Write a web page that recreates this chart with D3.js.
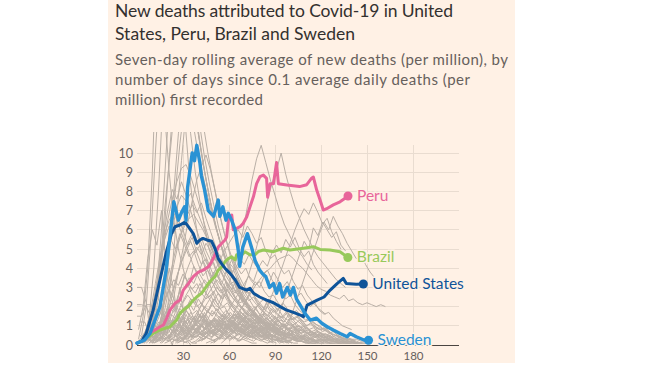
<!DOCTYPE html>
<html><head><meta charset="utf-8">
<script src="https://cdn.jsdelivr.net/npm/d3@7"></script>
<style>
body{margin:0;background:#fff;}
svg{display:block;}
text{font-family:Lato,"Noto Sans",sans-serif;}
</style></head>
<body><svg id="c" width="650" height="366"></svg>
<script>
// ---------- text ----------
const titleLines = ["New deaths attributed to Covid-19 in United", "States, Peru, Brazil and Sweden"];
const subtitleLines = ["Seven-day rolling average of new deaths (per million), by",
  "number of days since 0.1 average daily deaths (per", "million) first recorded"];
const xTicks = [30, 60, 90, 120, 150, 180];
const yTicks = [0, 1, 2, 3, 4, 5, 6, 7, 8, 9, 10];

// ---------- highlighted series (day, deaths per million) ----------
const seriesNames = ["Brazil", "Peru", "United States", "Sweden"];
const brazilDays = [7.4,10.6,15,18.3,21.5,23.7,25.9,28,30.2,33.5,35.7,38.9,42.2,44.4,46.5,48.7,50.9,53,55.3,57.4,59.6,61.8,63.9,65,67.2,70.4,73.7,77,79,82.4,89,95.4,99.8,108.5,115,119.4,125.9,132.4,137.5];
const brazilValues = [0.43,0.6,0.78,0.87,0.95,1.13,1.3,1.65,1.82,2.0,2.25,2.5,2.7,2.95,3.2,3.4,3.56,3.9,4.07,4.34,4.5,4.6,4.43,4.7,4.6,4.86,4.7,4.7,4.86,4.95,4.86,5.04,4.95,5.04,5.12,4.98,4.95,4.86,4.56];
const peruDays = [10,11.7,15,17.2,19.4,21.5,24.8,28,30.2,33.5,36.7,40,43.2,46.5,48.7,50.9,53,55.3,57.4,58.5,59.6,61.8,62.8,65,67.2,69.3,71.6,73.7,75.9,78,80.2,82.4,84.5,85.2,86.8,89,91,92.2,97.7,106,110.7,114,115,117.2,119.4,121.5,123.7,128,132.4,135.7,137.6];
const peruValues = [0.7,0.78,0.95,1.04,1.4,1.82,2.17,2.34,2.86,3.2,3.56,3.8,3.9,4.07,4.34,4.7,5.1,5.3,5.47,5.64,6.5,6.77,6.0,6.08,6.16,6.34,6.68,7.2,7.72,8.4,8.77,8.85,8.68,7.7,8.4,8.4,9.5,8.4,8.33,8.25,8.35,8.7,8.75,8.07,7.55,7.03,7.1,7.3,7.46,7.64,7.76];
const usDays = [0,3,6,10.5,15,19,22.5,24.8,28,31.3,33.5,36.7,39,41,43,45.5,48.7,51,53,55,57.4,60.7,64,67,71.5,73.7,76,80,84.5,89,93.3,97.6,102,106.5,108.5,111,117.5,122,126,130.5,134.5,136.5,143,147.6];
const usValues = [0.1,0.2,0.6,1.8,3.4,4.8,5.8,6.16,6.25,6.4,6.16,5.8,5.3,5.47,5.55,5.47,5.4,5.0,4.5,4.25,4.0,3.73,3.4,3.0,2.86,2.95,2.7,2.5,2.34,2.2,2.0,1.82,1.7,1.56,1.47,2.08,2.34,2.5,2.86,3.2,3.47,3.2,3.16,3.18];
const swedenDays = [0,5,8.5,15,19,22,24,27,29,31,32,33,34.5,36,37.5,39,41,42,44,46.5,50,53,54,56,58,59.5,61.7,64,66,67,69,72,75,77,80,82,84,86.5,89,91,93,95,98,100,102,104,107,109.5,113,117,120.5,124,128,132.5,137,139,143,148,151];
const swedenValues = [0.1,0.26,0.6,2.0,3.9,6.0,7.46,6.5,6.9,7.2,6.5,8.2,9.1,10.0,9.6,10.4,9.5,8.8,8.1,7.0,6.7,7.55,6.7,7.2,6.5,6.86,6.5,6.0,4.95,4.1,5.1,5.8,5.0,4.4,3.9,3.7,3.56,3.0,3.2,2.7,3.2,2.5,3.0,2.6,3.0,2.4,2.0,1.65,1.3,1.4,1.13,0.95,0.78,0.6,0.43,0.6,0.43,0.26,0.25];

// ---------- other countries (grey), one value every 3 days from a start day ----------
const greyStep = 3;
const greyStarts = [2,4,6,10,1,14, 5,3,7,12, 5,8,3,10,15, 0,0,1,2,
  6,10,0,15,20,25,30,40,12,8,50,60, 45,55,70,85,95,
  0,2,4,1,6,8,10,12,3,15,5,18,20,25,30,35,40,7,9,45,50,2,14,22,28,55,60,16,11,33,
  8,12,3, 5,8,12,16,20,24,30,38,42,48,65,75,3,26,35];
const greyValues = [
 [0.1,0.5,1.5,4,8,13,18,20,19,16,13,11,9,7.5,6.2,5,4.2,3.5,3,2.5,2.1,1.8,1.5,1.3,1.1,0.9,0.8,0.7,0.6,0.5,0.4,0.3],
 [0.1,0.4,1.2,3,6,10,14,17,18,17,15,13,11,9.5,8.2,7,6,5.2,4.5,3.8,3.2,2.7,2.3,2,1.7,1.4,1.2,1,0.9,0.8,0.7,0.6,0.5,0.4,0.4,0.3],
 [0.2,0.6,1.8,4,7,9.5,12,14,15,14.5,13,11.5,10,8.6,7.4,6.3,5.4,4.6,4,3.4,2.9,2.5,2.1,1.8,1.5,1.3,1.1,0.9,0.8,0.7,0.6],
 [0.1,0.5,1.5,3.2,5.5,8,10.5,12.5,13.8,14,13,11.6,10.1,8.8,7.6,6.4,5.5,4.6,3.9,3.3,2.8,2.4,2,1.7,1.4,1.2,1,0.8,0.7,0.6],
 [0.3,1.5,4,9,16,24,30,28,22,16,12,9,7,5.5,4.4,3.5,2.8,2.2,1.8,1.5,1.2,1,0.8,0.6,0.5,0.4],
 [0.2,0.8,2.0,4.0,6.8,9.6,12.2,14.5,13.2,11.4,9.8,8.5,7.3,6.2,5.3,4.5,3.8,3.2,2.7,2.3,1.9,1.6,1.3,1.1,0.9,0.7],
 [0.3,1.0,2.2,3.8,5.5,7.0,8.1,7.6,8.5,7.8,7.0,6.2,5.5,4.8,4.2,3.6,3.1,2.7,2.3,2.0,1.7,1.4,1.2,1.0,0.8,0.7,0.5,0.4],
 [0.2,0.8,1.8,3.2,4.6,5.8,6.5,6.9,6.3,5.6,5.0,4.3,3.7,3.2,2.7,2.3,1.9,1.6,1.4,1.2,1.0,0.8,0.6,0.5,0.4,0.3],
 [0.4,1.2,2.5,3.9,4.8,5.5,5.0,5.8,5.2,4.6,4.9,4.2,3.6,3.9,3.3,2.8,2.4,2.6,2.1,1.8,1.5,1.3,1.1,0.9,0.7,0.6],
 [0.3,0.9,1.8,3.0,4.2,5.3,6.2,6.8,7.3,6.9,7.4,6.6,5.9,5.2,4.6,4.0,3.5,3.0,2.6,2.2,1.9,1.6,1.4,1.2,1.0,0.8],
 [0.2,0.8,2,3.5,5,6.5,7.6,8.5,9.2,9.4,8.8,8,7.2,6.3,5.5,4.8,4.2,3.6,3.1,2.7,2.3,2,1.7,1.5,1.3,1.1,0.9,0.8,0.7,0.6],
 [0.3,0.9,1.8,3,4.5,6,7.2,7.8,7.5,7.9,7.2,6.6,6,5.3,4.7,4.1,3.6,3.1,2.7,2.3,2,1.8,1.6,1.4,1.2,1,0.9,0.8,0.7,0.6,0.5,0.5],
 [0.1,0.6,1.5,2.8,4.2,5.5,6.2,5.8,6.5,6,5.2,5.6,4.8,4.2,4.5,3.7,3.2,2.8,3,2.4,2.1,1.9,1.6,1.4,1.2,1.1],
 [0.2,0.7,1.5,2.6,3.8,4.9,5.6,6.2,6.6,6.8,6.4,6,5.5,5,4.5,4,3.6,3.2,2.8,2.5,2.2,1.9,1.7,1.5,1.3,1.1,1,0.9,0.8,0.7,0.6,0.5],
 [0.2,0.6,1.4,2.5,3.8,5,6.3,7.5,8.6,9.3,9.9,9.1,8,6.8,5.8,5,4.3,3.7,3.2,2.8,2.4,2.1,1.8,1.6,1.4,1.2,1,0.9],
 [3.0,3.0,2.2,0.5,0.4,0.4,1.5,1.5,0.8,0.2,0.2,0.1],
 [1.5,1.5,2.1,2.1,1.0,0.5,2.5,4.0,2.8,1.2,0.6,0.3,0.1,0.1],
 [0.8,2.0,4.5,6.0,5.2,7.0,4.0,2.5,1.8,3.0,1.2,0.6,0.3],
 [1.2,1.2,0.6,2.4,2.4,1.8,0.6,0,0.9,0.9,0.3,0],
 [0.2,0.5,1.0,1.6,2.3,2.9,3.4,3.1,3.7,3.3,2.9,3.2,2.7,2.4,2.6,2.1,1.9,2.0,1.6,1.4,1.5,1.2,1.0,1.1,0.8,0.7,0.6,0.5,0.4,0.3],
 [0.1,0.4,0.9,1.5,2.2,2.0,2.8,3.6,3.2,4.1,3.7,4.4,3.9,3.5,3.8,3.1,2.8,3.0,2.5,2.2,2.3,1.9,1.7,1.5,1.3,1.1,0.9,0.8,0.6,0.5],
 [2.1,2.1,2.0,1.5,1.5,1.6,2.4,2.9,2.4,1.8,1.5,1.3,0.9,0.7,0.5,0.4,0.3,0.2],
 [0.3,0.7,1.2,1.9,2.6,3.3,4.0,4.6,5.1,4.7,5.3,4.9,4.4,4.7,4.1,3.7,3.9,3.3,3.0,2.7,2.8,2.3,2.0,1.8,1.6,1.4,1.2,1.0,0.8,0.7,0.6],
 [0.2,0.5,0.9,1.4,1.9,2.4,2.2,2.9,3.4,3.1,3.8,3.5,4.2,3.9,4.5,4.1,3.7,4.0,3.4,3.1,3.3,2.8,2.5,2.6,2.2,1.9,1.7,1.5,1.3,1.1,0.9],
 [0.2,0.4,0.7,1.0,1.4,1.8,2.2,2.6,3.0,3.4,3.1,3.8,4.2,3.9,4.5,4.2,4.7,4.3,4.0,3.7,3.9,3.4,3.0,2.7,2.4,2.6,2.1,1.8,1.6,1.4,1.2,1.0,0.8,0.7,0.6],
 [0.3,0.6,1.0,1.5,2.1,2.7,3.3,3.9,4.4,4.9,5.3,5.7,6.0,5.6,6.2,5.8,5.3,5.6,4.9,4.5,4.7,4.1,3.7,3.9,3.3,2.9,3.1,2.6,2.3,2.0,1.8,1.6],
 [0.2,0.3,0.5,0.7,1.0,1.3,1.6,2.0,2.4,2.8,3.2,3.6,3.3,4.0,4.4,4.1,4.8,5.2,4.8,5.5,5.1,5.6,5.0,4.6,4.9,4.2,3.8,3.5,3.2],
 [0.2,0.6,1.2,2.0,2.9,3.8,4.6,5.3,5.8,5.2,5.6,4.9,4.4,4.7,4.0,3.5,3.1,3.3,2.7,2.3,2.0,1.7,1.5,1.3,1.1,0.9,0.7,0.6,0.5,0.4],
 [0.1,0.3,0.7,1.3,2.0,2.8,3.6,4.3,4.9,5.4,4.8,5.2,4.5,4.0,4.3,3.6,3.2,2.8,2.5,2.2,1.9,1.7,1.5,1.3,1.1,0.9,0.8,0.7],
 [0.1,0.3,0.5,0.8,1.1,1.5,1.9,2.3,2.8,3.3,3.0,3.6,3.2,3.8,3.4,3.0,3.3,2.8,2.5,2.7,2.3,2.0,2.2,1.8,1.6,1.7,1.4,1.2,1.0,0.9,0.8],
 [1,1.3,1.7,2,2.4,2.8,3.2,3.5,3.8,4,4.3,4.5,4.6,4.7,4.5,4.2,4.0,3.7,3.4,3.1,2.9,2.8,2.6,2.5,2.4,2.6,2.3,2.4,2.2,2.1,2.2,2.1,2.0,2.1,2.0],
 [0.8,1.1,1.5,2.0,2.6,3.2,3.9,4.8,5.9,7.2,8.6,9.7,10.4,9.5,8.6,7.8,7.0,6.3,5.8,5.3,4.9,4.6,4.2,3.9],
 [0.6,0.9,1.3,1.8,2.4,3.0,3.7,4.5,5.4,6.4,7.5,8.4,9.1,10.0,8.9,8.0,7.2,6.6,6.0,5.5,5.0,4.6,4.3,4.0,3.7,3.4,3.2,3.0],
 [0.3,0.5,0.8,1.1,1.5,2.0,2.6,3.2,3.9,4.6,5.3,6.0,6.6,7.1,6.8,7.4,6.9,6.3,6.6,5.9,5.4,5.0],
 [0.4,0.8,1.3,1.9,2.6,3.3,4.0,4.7,5.4,5.0,6.1,5.7,6.4,6.0,5.6,5.9,5.2,4.9],
 [0.5,1.0,1.6,2.3,3.0,3.7,4.4,5.1,5.8,6.4,6.0,6.7,6.2,5.8,5.3,4.9,4.5,4.7,4.2,3.8,3.5],
 [0.1,0.3,0.5,0.4,0.8,0.6,1.1,0.9,1.3,1.0,1.4,1.1,1.5,1.2,1.3,1.0,1.2,0.9,1.1,0.8,1.0,0.7,0.9,0.6,0.8,0.5,0.7,0.4,0.6,0.3,0.5,0.3,0.4,0.2,0.3,0.2,0.2,0.1,0.1,0.1],
 [0.2,0.1,0.6,0.3,0.9,0.5,1.2,0.7,1.4,0.9,1.6,1.1,1.5,1.2,1.7,1.0,1.4,1.2,1.6,0.9,1.3,1.0,1.1,0.8,1.0,0.6,0.9,0.5,0.7,0.4,0.6,0.3,0.4,0.3,0.2,0.2,0.1],
 [0.1,0.4,0.2,0.7,0.4,1.0,0.6,0.8,1.1,0.7,1.3,0.9,1.2,1.5,1.0,1.3,0.8,1.2,1.4,0.9,1.1,0.7,1.0,0.8,0.6,0.9,0.5,0.7,0.4,0.6,0.3,0.5,0.2,0.4,0.2,0.3,0.1,0.2,0.1],
 [0.2,0.5,0.3,0.2,0.6,0.9,0.5,1.2,0.8,0.6,1.0,0.7,0.9,0.5,0.8,0.6,0.4,0.7,0.5,0.3,0.6,0.4,0.2,0.5,0.3,0.2,0.4,0.2,0.1,0.2,0.1],
 [0.1,0.3,0.7,1.1,1.6,2.0,1.7,2.3,1.9,2.1,1.6,1.8,1.4,1.6,1.2,1.3,1.0,1.2,0.9,1.0,0.7,0.8,0.6,0.7,0.5,0.4,0.5,0.3,0.3,0.2,0.2,0.1],
 [0.3,0.2,0.5,0.8,0.6,1.0,0.7,1.2,0.9,0.6,1.1,0.8,1.3,1.0,0.7,1.2,0.9,1.1,0.8,1.0,1.2,0.9,0.7,1.0,0.8,0.6,0.9,0.7,0.5,0.6,0.4,0.5,0.3,0.4,0.2,0.3,0.2,0.1],
 [0.1,0.2,0.4,0.3,0.6,0.9,0.7,1.1,1.4,1.2,1.6,1.3,1.8,1.5,1.9,1.6,1.4,1.7,1.3,1.5,1.2,1.4,1.1,1.2,0.9,1.0,0.8,0.9,0.7,0.6,0.7,0.5,0.4,0.5,0.3,0.3,0.2,0.2],
 [0.2,0.4,0.3,0.5,0.7,0.5,0.8,0.6,0.9,0.7,1.0,0.8,0.6,0.9,0.7,0.5,0.8,0.6,0.9,0.7,0.5,0.8,0.6,0.7,0.5,0.6,0.4,0.5,0.3,0.4,0.3,0.2,0.3,0.2,0.1,0.1],
 [0.1,0.2,0.4,0.7,1.0,1.4,1.8,2.1,2.4,2.2,2.6,2.3,2.0,2.2,1.8,1.6,1.7,1.4,1.2,1.3,1.0,0.9,1.0,0.7,0.6,0.7,0.5,0.4,0.3,0.3,0.2,0.1],
 [0.1,0.3,0.2,0.5,0.4,0.7,0.5,0.9,0.6,1.0,0.8,1.2,0.9,1.3,1.1,0.8,1.2,1.0,1.3,0.9,1.1,0.8,1.0,0.7,0.9,0.6,0.8,0.5,0.7,0.4,0.6,0.4,0.3,0.4,0.2,0.3,0.2,0.1],
 [0.2,0.6,0.4,0.9,0.6,1.3,0.9,1.6,1.2,1.8,1.4,1.1,1.5,1.2,0.9,1.3,1.0,0.8,1.1,0.8,0.6,0.9,0.7,0.5,0.7,0.5,0.4,0.5,0.3,0.2,0.3,0.2,0.1],
 [0.1,0.2,0.4,0.6,0.5,0.8,1.0,0.8,1.1,1.3,1.0,1.4,1.2,1.5,1.3,1.6,1.4,1.2,1.5,1.3,1.1,1.4,1.2,1.0,1.2,0.9,1.0,0.8,0.9,0.7,0.8,0.6,0.5,0.6,0.4,0.4,0.3,0.2,0.2,0.1],
 [0.2,0.3,0.2,0.4,0.3,0.5,0.4,0.6,0.5,0.7,0.5,0.8,0.6,0.9,0.7,0.8,0.6,0.9,0.7,1.0,0.8,0.9,0.7,0.8,0.6,0.7,0.5,0.6,0.5,0.4,0.5,0.3,0.4,0.3,0.2,0.3,0.2,0.1,0.1,0.1,0.1],
 [0.1,0.3,0.5,0.4,0.7,0.9,0.7,1.1,0.9,1.3,1.1,1.5,1.2,1.6,1.4,1.7,1.5,1.8,1.5,1.6,1.3,1.5,1.2,1.3,1.0,1.1,0.9,1.0,0.7,0.8,0.6,0.7,0.5,0.4,0.3,0.3,0.2,0.1,0.1],
 [0.1,0.2,0.3,0.5,0.4,0.6,0.8,0.6,0.9,1.1,0.9,1.2,1.0,1.3,1.1,1.4,1.2,1.5,1.3,1.1,1.4,1.2,1.0,1.2,0.9,1.0,0.8,0.9,0.7,0.8,0.6,0.5,0.6,0.4,0.3,0.3,0.2,0.2,0.1,0.1],
 [0.1,0.2,0.4,0.3,0.5,0.7,0.9,0.7,1.0,1.2,1.0,1.3,1.5,1.2,1.6,1.4,1.7,1.5,1.8,1.6,1.4,1.7,1.3,1.5,1.2,1.0,1.1,0.9,0.8,0.9,0.6,0.7,0.5,0.4,0.3,0.3,0.2,0.1,0.1],
 [0.2,0.3,0.5,0.7,0.6,0.9,1.1,0.9,1.3,1.6,1.4,1.9,1.7,2.1,1.8,2.3,2.0,1.7,2.1,1.8,1.5,1.7,1.4,1.2,1.3,1.0,0.9,0.7,0.8,0.6,0.5,0.4,0.3,0.3,0.2],
 [0.2,0.5,0.9,1.3,1.1,1.6,1.4,1.9,1.6,2.2,1.8,2.4,2.0,1.7,2.1,1.8,1.5,1.8,1.4,1.6,1.2,1.4,1.1,0.9,1.0,0.8,0.7,0.8,0.6,0.5,0.4,0.4,0.3,0.2,0.2,0.1],
 [0.1,0.4,0.2,0.6,0.3,0.8,0.5,0.3,0.7,0.4,0.9,0.6,0.4,0.8,0.5,0.3,0.7,0.5,0.3,0.6,0.4,0.3,0.5,0.3,0.2,0.4,0.2,0.3,0.1,0.2,0.1],
 [0.1,0.2,0.3,0.4,0.3,0.5,0.4,0.6,0.5,0.7,0.6,0.8,0.7,0.9,0.8,1.0,0.8,0.9,0.7,0.8,0.6,0.7,0.5,0.6,0.4,0.5,0.3,0.4,0.3,0.2,0.2,0.1,0.1,0.1],
 [0.2,0.4,0.6,0.9,1.2,1.0,1.4,1.7,1.5,1.9,2.2,1.9,2.4,2.1,1.8,2.2,1.9,1.6,1.8,1.5,1.3,1.4,1.1,1.0,0.8,0.9,0.7,0.5,0.6,0.4,0.3,0.3,0.2,0.2],
 [0.5,0.3,0.9,0.6,1.2,0.8,1.4,1.0,1.6,1.3,1.8,1.5,1.2,1.6,1.3,1.0,1.3,1.0,0.8,1.0,0.7,0.6,0.8,0.5,0.4,0.5,0.3,0.3,0.2,0.1],
 [0.3,0.5,0.8,1.2,1.6,2.1,2.6,3.0,2.7,3.2,2.8,2.5,2.8,2.3,2.0,2.2,1.8,1.6,1.7,1.4,1.2,1.3,1.0,0.9,0.8,0.9,0.6,0.5,0.4,0.4,0.3,0.2],
 [0.1,0.3,0.2,0.4,0.6,0.4,0.7,0.5,0.8,0.6,0.9,0.7,1.0,0.8,1.1,0.9,0.7,1.0,0.8,0.6,0.9,0.7,0.5,0.8,0.6,0.4,0.6,0.4,0.3,0.5,0.3,0.2,0.3,0.2,0.1,0.1],
 [0.2,0.4,0.7,1.0,1.4,1.8,2.2,2.6,3.0,2.7,3.3,3.0,2.7,3.1,2.6,2.3,2.5,2.1,1.8,2.0,1.6,1.4,1.5,1.2,1.0,1.1,0.8,0.7,0.6,0.5,0.4,0.3,0.3,0.2,0.2,0.1],
 [0.1,0.3,0.5,0.8,1.1,0.9,1.3,1.6,1.4,1.8,1.5,1.9,1.6,1.4,1.7,1.3,1.1,1.3,1.0,0.8,0.9,0.7,0.6,0.5,0.4,0.5,0.3,0.2,0.2,0.1,0.1],
 [0.2,0.4,0.3,0.6,0.5,0.8,0.7,1.0,0.8,1.1,0.9,1.2,1.0,0.8,1.0,0.7,0.9,0.6,0.7,0.5,0.6,0.4,0.5,0.3,0.3,0.2,0.2,0.1,0.1,0.1],
 [0.2,0.6,1.1,1.7,2.4,3.0,3.5,3.2,3.8,3.4,3.0,3.3,2.8,2.5,2.7,2.2,1.9,2.1,1.7,1.5,1.6,1.3,1.1,1.2,0.9,0.8,0.7,0.6,0.5,0.4,0.3,0.3,0.2],
 [0.1,0.2,0.5,0.3,0.7,0.4,0.9,0.6,1.0,0.7,1.1,0.8,1.2,0.9,1.1,0.8,1.0,0.7,0.9,0.6,0.8,0.5,0.7,0.4,0.6,0.4,0.5,0.3,0.4,0.2,0.3,0.2,0.2,0.1,0.1,0.1,0.1,0.1,0.1,0.1,0.1,0.1,0.1,0.1],
 [0.3,0.5,0.4,0.7,0.6,0.9,0.7,1.0,0.8,1.1,0.9,1.2,1.0,1.3,1.1,1.4,1.2,1.0,1.3,1.1,0.9,1.1,0.8,1.0,0.7,0.8,0.6,0.7,0.5,0.6,0.4,0.5,0.3,0.4,0.3,0.2,0.2,0.1,0.1,0.1],
 [0.2,0.9,2.5,5,8.5,12,15.5,17,16,14.2,12.3,10.6,9.1,7.8,6.7,5.7,4.8,4.1,3.5,3,2.5,2.1,1.8,1.5,1.2,1,0.8],
 [0.3,1.0,2.6,5.0,8.0,11.0,13.0,12.2,11.8,10.4,9.2,8.1,7.1,6.2,5.4,4.7,4.1,3.5,3.0,2.6,2.2,1.9,1.6,1.3,1.1,0.9],
 [0.5,2.0,5.5,10,14,12,9,6.5,5,4,3.2,2.6,2.1,1.7,1.4,1.1,0.9,0.7,0.5,0.4],
 [0.3,0.6,0.9,0.7,1.1,0.8,1.2,0.9,1.3,1.0,0.8,1.1,0.9,1.2,0.8,1.0,0.7,0.9,0.6,0.8,0.5,0.7,0.5,0.6,0.4,0.5,0.3,0.4,0.2,0.3,0.2,0.1],
 [0.1,0.4,0.8,0.6,1.0,1.3,1.0,1.5,1.2,1.7,1.3,1.1,1.4,1.0,1.3,0.9,1.2,0.8,1.0,0.7,0.9,0.6,0.8,0.5,0.6,0.4,0.5,0.3,0.3,0.2,0.2,0.1],
 [0.2,0.3,0.6,0.4,0.8,0.5,0.9,0.7,0.5,0.9,0.6,1.0,0.7,0.5,0.8,0.6,0.4,0.7,0.5,0.8,0.6,0.4,0.6,0.5,0.3,0.5,0.4,0.2,0.3,0.2,0.1,0.1],
 [0.1,0.3,0.6,1.0,0.8,1.2,1.0,1.4,1.1,1.6,1.3,1.8,1.5,1.2,1.6,1.3,1.0,1.4,1.1,0.9,1.2,0.9,0.7,1.0,0.8,0.6,0.7,0.5,0.6,0.4,0.3,0.4,0.2,0.2,0.1],
 [0.3,0.5,0.8,0.6,1.0,0.8,1.2,0.9,1.1,0.8,1.0,0.7,1.1,0.8,1.0,0.7,0.9,1.1,0.8,0.6,0.9,0.7,0.5,0.8,0.6,0.4,0.6,0.5,0.3,0.4,0.3,0.2,0.2,0.1,0.1],
 [0.2,0.4,0.3,0.6,0.9,0.7,1.1,0.8,1.3,1.0,1.5,1.2,0.9,1.3,1.0,1.4,1.1,0.8,1.2,0.9,1.1,0.8,0.6,0.9,0.7,0.5,0.7,0.5,0.4,0.5,0.3,0.2,0.3,0.2,0.1,0.1],
 [0.2,0.5,0.4,0.7,0.5,0.9,0.7,0.5,0.8,0.6,1.0,0.7,0.9,0.6,0.8,1.0,0.7,0.9,0.6,0.8,0.5,0.7,0.5,0.6,0.4,0.5,0.3,0.4,0.3,0.2,0.3,0.2,0.1,0.1,0.1],
 [0.1,0.3,0.5,0.8,0.6,1.0,1.3,1.1,1.5,1.2,1.7,1.4,1.9,1.5,1.2,1.6,1.3,1.0,1.3,1.0,0.8,1.0,0.7,0.6,0.7,0.5,0.4,0.5,0.3,0.2,0.2,0.1,0.1],
 [0.2,0.4,0.3,0.6,0.5,0.8,0.6,0.9,0.7,1.1,0.8,1.2,0.9,1.3,1.0,1.1,0.8,1.0,0.7,0.9,0.6,0.8,0.5,0.6,0.4,0.5,0.3,0.3,0.2,0.2,0.1,0.1,0.1],
 [0.1,0.2,0.4,0.6,0.5,0.8,1.0,0.8,1.1,0.9,1.3,1.1,1.4,1.2,1.5,1.2,1.0,1.3,1.0,0.8,1.0,0.8,0.6,0.7,0.5,0.6,0.4,0.3,0.3,0.2,0.2,0.1,0.1],
 [0.2,0.3,0.5,0.4,0.7,0.6,0.9,0.7,1.0,0.8,1.1,0.9,0.7,0.9,0.6,0.8,0.5,0.6,0.4,0.5,0.3,0.3,0.2,0.2,0.1,0.1,0.1],
 [0.3,0.5,0.7,0.9,1.2,1.0,1.4,1.2,1.6,1.3,1.5,1.2,1.0,1.2,0.9,0.8,0.9,0.6,0.5,0.4,0.3,0.3,0.2,0.1],
 [0.4,0.8,0.5,1.0,0.7,1.2,0.9,0.6,1.0,0.7,0.9,0.6,0.8,0.5,0.7,0.4,0.6,0.3,0.5,0.3,0.4,0.2,0.3,0.2,0.1,0.1],
 [0.1,0.2,0.4,0.7,1.1,1.5,2.0,1.8,2.3,2.7,2.4,2.9,2.5,2.2,2.5,2.1,1.8,2.0,1.6,1.3,1.5,1.2,1.0,1.1,0.8,0.7,0.6,0.5,0.4,0.3,0.2,0.2,0.1],
 [0.3,0.6,1.0,1.4,1.9,2.4,2.1,2.7,3.2,2.9,3.5,3.1,2.7,3.0,2.5,2.2,2.4,2.0,1.7,1.9,1.5,1.3,1.4,1.1,0.9,1.0,0.7,0.6,0.5,0.4,0.3,0.3,0.2]
];

// ---------- style ----------
const colors = {"Brazil":"#98c95b","Peru":"#e8659a","United States":"#0f5499","Sweden":"#2a92d4"};
const cream = "#fff1e5";
const titleWidths = [338, 240];
const subtitleWidths = [393, 355, 148];

const svg = d3.select("#c");
svg.append("rect").attr("x",108).attr("y",0).attr("width",407).attr("height",363).attr("fill",cream);

// titles
svg.append("g").selectAll("text").data(titleLines).join("text")
  .attr("x",115).attr("y",(d,i)=>17+i*23)
  .attr("font-size",17.5).attr("fill","#33302e")
  .attr("textLength",(d,i)=>titleWidths[i]).attr("lengthAdjust","spacing").text(d=>d);
svg.append("g").selectAll("text").data(subtitleLines).join("text")
  .attr("x",115).attr("y",(d,i)=>65+i*20)
  .attr("font-size",15).attr("fill","#66605c")
  .attr("textLength",(d,i)=>subtitleWidths[i]).attr("lengthAdjust","spacing").text(d=>d);

const x = d3.scaleLinear().domain([0,210]).range([137,459]);
const y = d3.scaleLinear().domain([0,10]).range([345,153]);

// grid
const grid = svg.append("g");
grid.selectAll("line.h").data(yTicks.filter(v=>v>0)).join("line")
  .attr("x1",x(0)).attr("x2",x(210)).attr("y1",d=>y(d)).attr("y2",d=>y(d))
  .attr("stroke","#e9dcd0").attr("stroke-width",1).attr("shape-rendering","crispEdges");
grid.selectAll("line.v").data(xTicks).join("line")
  .attr("x1",d=>x(d)).attr("x2",d=>x(d)).attr("y1",y(0)).attr("y2",y(10.4))
  .attr("stroke","#e9dcd0").attr("stroke-width",1).attr("shape-rendering","crispEdges");

// axes
const yAxis = d3.axisLeft(y).tickValues(yTicks).tickSize(0).tickPadding(0);
const gy = svg.append("g").attr("transform","translate(133,0)").call(yAxis);
gy.select(".domain").remove();
gy.selectAll("text").attr("font-size",12.5).attr("fill","#66605c").attr("font-family","Lato");
const xAxis = d3.axisBottom(x).tickValues(xTicks).tickSize(0).tickPadding(0);
const gx = svg.append("g").attr("transform","translate(0,359.5)").call(xAxis);
gx.select(".domain").remove();
gx.selectAll("text").attr("font-size",11.5).attr("fill","#66605c").attr("font-family","Lato").attr("y",0).attr("dy","0");

// clip
svg.append("clipPath").attr("id","clip").append("rect")
  .attr("x",x(0)-3).attr("y",y(11.1)).attr("width",x(210)-x(0)+3).attr("height",y(0)-y(11.1)+2);
const plot = svg.append("g").attr("clip-path","url(#clip)");

const greyLine = d3.line().x(d=>x(d[0])).y(d=>y(d[1]));
plot.append("g").selectAll("path").data(greyValues.map((vals,k)=>vals.map((v,i)=>[greyStarts[k]+i*greyStep,v])))
  .join("path").attr("d",greyLine).attr("fill","none")
  .attr("stroke","#b9afa6").attr("stroke-width",1).attr("stroke-linejoin","round");

// baseline
svg.append("line").attr("x1",x(0)).attr("x2",x(210)).attr("y1",y(0)+0.5).attr("y2",y(0)+0.5)
  .attr("stroke","#4a4541").attr("stroke-width",1);

// highlighted
const hl = [
  {name:"Brazil", days:brazilDays, values:brazilValues},
  {name:"Peru", days:peruDays, values:peruValues},
  {name:"United States", days:usDays, values:usValues},
  {name:"Sweden", days:swedenDays, values:swedenValues}
];
const hLine = d3.line().x(d=>x(d[0])).y(d=>y(d[1]));
hl.forEach(s=>{
  const pts = s.days.map((d,i)=>[d,s.values[i]]);
  plot.append("path").datum(pts).attr("d",hLine).attr("fill","none")
    .attr("stroke",colors[s.name]).attr("stroke-width",s.name==="Sweden"?3.4:3).attr("stroke-linejoin","round").attr("stroke-linecap","round");
});
hl.forEach(s=>{
  const last = [s.days[s.days.length-1], s.values[s.values.length-1]];
  svg.append("circle").attr("cx",x(last[0])).attr("cy",y(last[1])).attr("r",4.5).attr("fill",colors[s.name]);
  svg.append("text").attr("x",x(last[0])+9).attr("y",y(last[1])).attr("dy","0.31em")
    .attr("font-size",15.5).attr("fill",colors[s.name])
    .attr("stroke",cream).attr("stroke-width",3).attr("paint-order","stroke").text(s.name);
});
</script></body></html>
